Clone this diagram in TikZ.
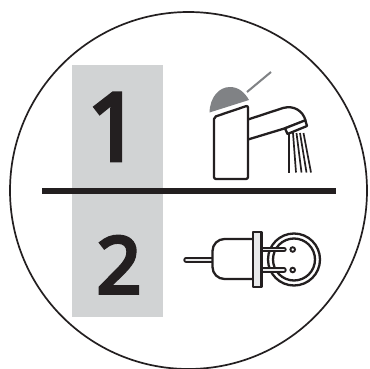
\documentclass[tikz,border=0pt]{standalone}
\usepackage{fontspec}
\setmainfont{Open Sans}
\newfontfamily\digitfont[FakeBold=5]{Open Sans}
\definecolor{ink}{HTML}{231F20}
\definecolor{band}{HTML}{D1D3D4}
\definecolor{lever}{HTML}{808285}
\tikzset{
  outline/.style={draw=ink,line width=2.3pt,line join=round},
  water line/.style={draw=ink,line width=1.7pt},
  digit/.style={inner sep=0pt,text=ink,anchor=base,font=\digitfont\fontsize{#1}{#1}\selectfont},
  pin/.style={draw=ink,line width=5.4pt,line cap=round},
  pin core/.style={draw=band!50!white,line width=1.8pt,line cap=round},
}
\begin{document}
\begin{tikzpicture}[x=1pt,y=-1pt]
\useasboundingbox (0,0) rectangle (369,369);
\fill[white] (0,0) rectangle (369,369);
\clip (0,0) rectangle (369,369);
% badge
\fill[band] (72,65) rectangle (163,317);
\draw[draw=ink,line width=1.7pt] (188.5,190.5) circle (178.5);
\coordinate (ruleL) at (42,191);
\coordinate (ruleR) at (336,191);
\draw[draw=ink,line width=6pt] (ruleL) -- (ruleR);
\node[digit=93] (one) at (114,160) {1};
\node[digit=78] (two) at (119,293) {2};
% tap: lever and dome
\draw[draw=lever,line width=2pt] (247,92) -- (271,72);
\fill[lever] (209.5,112.5) .. controls (210,97) and (219,87) .. (230,87) .. controls (239,87) and (245,93) .. (249,100) -- cycle;
% tap: spout
\draw[outline,fill=white] (248,119.5) -- (283,108) .. controls (294,105) and (303,111) .. (305.5,120.5) -- (285,128.3) -- (248,139.5);
\draw[outline,fill=white] (285,128.3) -- (305.3,120.3) -- (307,126) -- (287.5,134) -- cycle;
% tap: water
\foreach \xa/\xb in {289/289,293/296,296.5/301.5,300/306.5,303.5/311}
  \draw[water line] (\xa,133) -- (\xb,172.5);
% tap: body
\draw[outline,fill=white,rounded corners=2pt] (214,117) -- (248,105.5) -- (248,179) -- (214,179) -- cycle;
% plug socket
\draw[outline] (294,259.5) circle (26);
\draw[outline] (294,259.5) circle (21);
\draw[draw=ink,line width=1.9pt] (292.7,249.5) circle (2.3);
\draw[draw=ink,line width=1.9pt] (292.7,270) circle (2.3);
% plug pins
\draw[pin] (262,249.5) -- (284,249.5);
\draw[pin] (262,270) -- (284,270);
\draw[pin core] (262,249.5) -- (284,249.5);
\draw[pin core] (262,270) -- (284,270);
% plug body
\draw[pin] (186,260) -- (212,260);
\draw[pin core] (186,260) -- (212,260);
\draw[outline,fill=white,rounded corners=12pt] (253,239) -- (212.5,239) -- (212.5,279) -- (253,279);
\draw[outline,fill=band!50!white] (253,232) rectangle (261.5,287);
\end{tikzpicture}
\end{document}
